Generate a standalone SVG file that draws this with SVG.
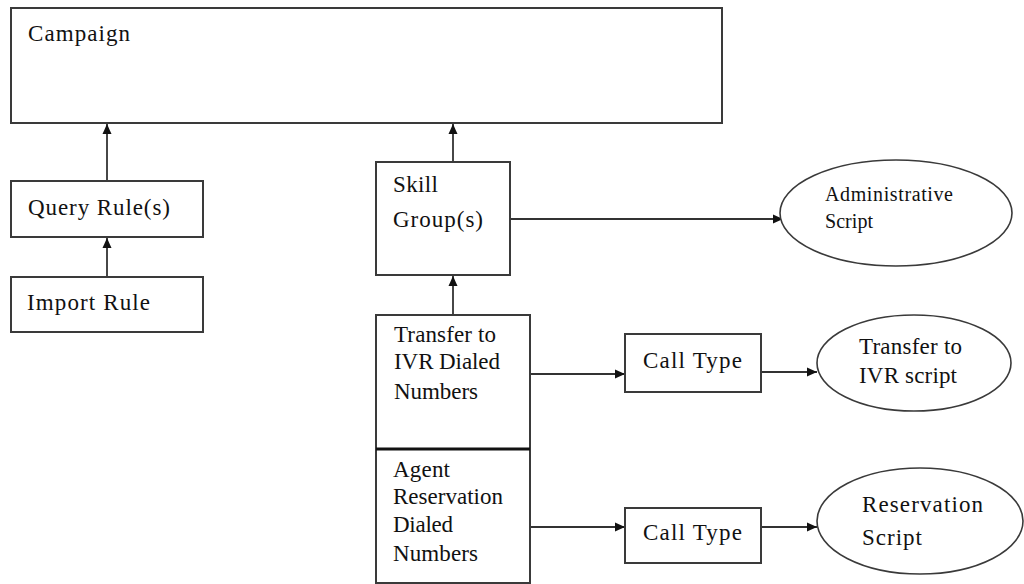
<svg xmlns="http://www.w3.org/2000/svg" width="1024" height="584" viewBox="0 0 1024 584">
<style>
.box{fill:#fff;stroke:#3a3a3a;stroke-width:2}
.ell{fill:#fff;stroke:#3a3a3a;stroke-width:1.6}
.t{font-family:"Liberation Serif","Times New Roman",serif;font-size:23px;fill:#111}
.ts{font-family:"Liberation Serif","Times New Roman",serif;font-size:20px;fill:#111}
.c{stroke:#333;stroke-width:1.8;fill:none;marker-end:url(#ah)}
</style>
<defs>
<marker id="ah" viewBox="0 0 10 10" refX="10" refY="5" markerWidth="10" markerHeight="10" markerUnits="userSpaceOnUse" orient="auto">
<path d="M0,0.5 L10,5 L0,9.5 z" fill="#111"/>
</marker>
</defs>
<rect width="1024" height="584" fill="#fff"/>
<g id="connectors">
<line class="c" x1="107" y1="181" x2="107" y2="124"/>
<line class="c" x1="107" y1="277" x2="107" y2="238"/>
<line class="c" x1="453" y1="162" x2="453" y2="124"/>
<line class="c" x1="453" y1="315" x2="453" y2="276"/>
<line class="c" x1="511" y1="219" x2="783" y2="219"/>
<line class="c" x1="531" y1="374" x2="625" y2="374"/>
<line class="c" x1="762" y1="372" x2="817" y2="372"/>
<line class="c" x1="531" y1="527" x2="625" y2="527"/>
<line class="c" x1="762" y1="527" x2="817" y2="527"/>
</g>
<g id="campaign">
<rect class="box" x="11" y="8" width="711" height="115"/>
<text class="t" x="28" y="41" textLength="102" lengthAdjust="spacing">Campaign</text>
</g>
<g id="query-rules">
<rect class="box" x="11" y="181" width="192" height="56"/>
<text class="t" x="28" y="215" textLength="142" lengthAdjust="spacing">Query Rule(s)</text>
</g>
<g id="import-rule">
<rect class="box" x="11" y="277" width="192" height="55"/>
<text class="t" x="27" y="310" textLength="123" lengthAdjust="spacing">Import Rule</text>
</g>
<g id="skill-groups">
<rect class="box" x="376" y="162" width="134" height="113"/>
<text class="t" x="393" y="192" textLength="45" lengthAdjust="spacing">Skill</text>
<text class="t" x="393" y="227" textLength="90" lengthAdjust="spacing">Group(s)</text>
</g>
<g id="transfer-ivr-dn">
<rect class="box" x="376" y="315" width="154" height="134"/>
<text class="t" x="394" y="342" textLength="102" lengthAdjust="spacing">Transfer to</text>
<text class="t" x="394" y="369" textLength="106" lengthAdjust="spacing">IVR Dialed</text>
<text class="t" x="394" y="399" textLength="84" lengthAdjust="spacing">Numbers</text>
</g>
<g id="agent-reservation-dn">
<rect class="box" x="376" y="449" width="154" height="134"/>
<line x1="376" y1="449" x2="530" y2="449" stroke="#111" stroke-width="3"/>
<text class="t" x="393" y="477" textLength="57" lengthAdjust="spacing">Agent</text>
<text class="t" x="393" y="504" textLength="110" lengthAdjust="spacing">Reservation</text>
<text class="t" x="393" y="532" textLength="60" lengthAdjust="spacing">Dialed</text>
<text class="t" x="393" y="561" textLength="85" lengthAdjust="spacing">Numbers</text>
</g>
<g id="call-type-1">
<rect class="box" x="625" y="334" width="136" height="58"/>
<text class="t" x="643" y="368" textLength="99" lengthAdjust="spacing">Call Type</text>
</g>
<g id="call-type-2">
<rect class="box" x="625" y="508" width="136" height="55"/>
<text class="t" x="643" y="540" textLength="99" lengthAdjust="spacing">Call Type</text>
</g>
<g id="administrative-script">
<ellipse class="ell" cx="896" cy="213" rx="116" ry="53"/>
<text class="ts" x="825" y="201" textLength="128" lengthAdjust="spacing">Administrative</text>
<text class="ts" x="825" y="228" textLength="48" lengthAdjust="spacing">Script</text>
</g>
<g id="transfer-ivr-script">
<ellipse class="ell" cx="914" cy="363" rx="97" ry="48"/>
<text class="t" x="859" y="354" textLength="103" lengthAdjust="spacing">Transfer to</text>
<text class="t" x="859" y="383" textLength="98" lengthAdjust="spacing">IVR script</text>
</g>
<g id="reservation-script">
<ellipse class="ell" cx="920" cy="521" rx="103" ry="53"/>
<text class="t" x="862" y="512" textLength="121" lengthAdjust="spacing">Reservation</text>
<text class="t" x="862" y="545" textLength="60" lengthAdjust="spacing">Script</text>
</g>
</svg>
